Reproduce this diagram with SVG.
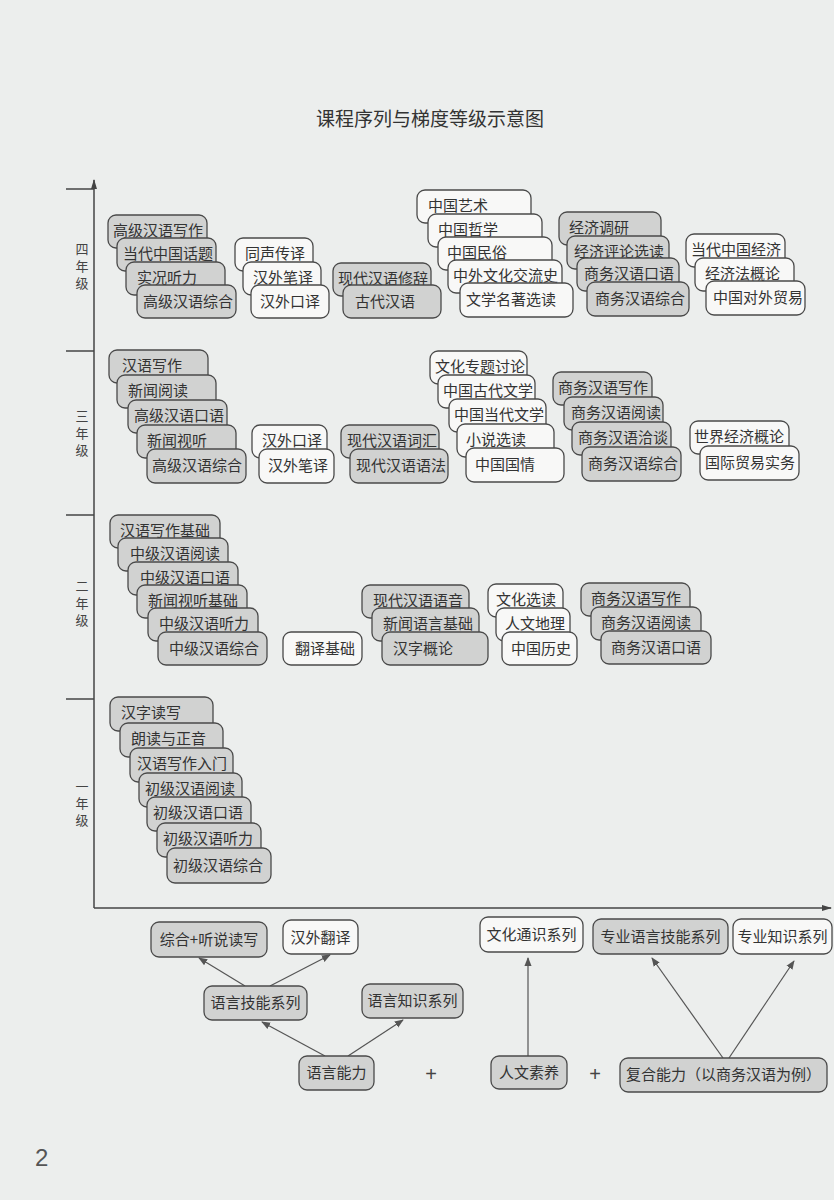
<svg xmlns="http://www.w3.org/2000/svg" width="834" height="1200" viewBox="0 0 834 1200">
<defs>
<style>
.g{fill:#d1d2d1;stroke:#4a4a4a;stroke-width:1.3}
.w{fill:#f8f8f7;stroke:#4a4a4a;stroke-width:1.3}
.t{font-family:"Noto Sans CJK SC","Noto Sans",sans-serif;font-size:15px;fill:#333}
.c{text-anchor:middle}
.yr{font-family:"Noto Sans CJK SC",sans-serif;font-size:13px;fill:#444;text-anchor:middle}
.ax{stroke:#444;stroke-width:1.5;fill:none}
.ar{stroke:#555;stroke-width:1.2;fill:none;marker-end:url(#ah)}
</style>
<marker id="ah" viewBox="0 0 10 10" refX="9" refY="5" markerWidth="9" markerHeight="9" orient="auto" markerUnits="userSpaceOnUse"><path d="M0,1 L10,5 L0,9 z" fill="#555"/></marker>
<marker id="axh" viewBox="0 0 10 10" refX="9" refY="5" markerWidth="10" markerHeight="10" orient="auto" markerUnits="userSpaceOnUse"><path d="M0,2 L10,5 L0,8 z" fill="#444"/></marker>
</defs>
<rect x="0" y="0" width="834" height="1200" fill="#eceeed"/>
<text x="430" y="126" font-family="'Noto Sans CJK SC',sans-serif" font-size="19" fill="#333" text-anchor="middle">课程序列与梯度等级示意图</text>
<g id="axes">
<line class="ax" x1="94" y1="908" x2="94" y2="180" marker-end="url(#axh)"/>
<line class="ax" x1="94" y1="908" x2="831" y2="908" marker-end="url(#axh)"/>
<line class="ax" x1="66" y1="189" x2="94" y2="189"/>
<line class="ax" x1="66" y1="351" x2="94" y2="351"/>
<line class="ax" x1="66" y1="515" x2="94" y2="515"/>
<line class="ax" x1="66" y1="699" x2="94" y2="699"/>
</g>
<g id="year-labels">
<text class="yr" x="82" y="254">四</text><text class="yr" x="82" y="271">年</text><text class="yr" x="82" y="288">级</text>
<text class="yr" x="82" y="421">三</text><text class="yr" x="82" y="438">年</text><text class="yr" x="82" y="455">级</text>
<text class="yr" x="82" y="591">二</text><text class="yr" x="82" y="608">年</text><text class="yr" x="82" y="625">级</text>
<text class="yr" x="82" y="791">一</text><text class="yr" x="82" y="808">年</text><text class="yr" x="82" y="825">级</text>
</g>
<g id="year4">
<g id="n401"><rect class="g" x="108" y="215" width="99" height="33" rx="8"/><text class="t" x="113" y="236">高级汉语写作</text></g>
<g id="n402"><rect class="g" x="117" y="238" width="99" height="33" rx="8"/><text class="t" x="123" y="259">当代中国话题</text></g>
<g id="n403"><rect class="g" x="126" y="262" width="99" height="33" rx="8"/><text class="t" x="137" y="283">实况听力</text></g>
<g id="n404"><rect class="g" x="137" y="285" width="99" height="33" rx="8"/><text class="t" x="143" y="307">高级汉语综合</text></g>
<g id="n405"><rect class="w" x="235" y="238" width="78" height="33" rx="8"/><text class="t" x="245" y="259">同声传译</text></g>
<g id="n406"><rect class="w" x="243" y="262" width="78" height="33" rx="8"/><text class="t" x="253" y="283">汉外笔译</text></g>
<g id="n407"><rect class="w" x="251" y="285" width="78" height="33" rx="8"/><text class="t" x="260" y="307">汉外口译</text></g>
<g id="n408"><rect class="g" x="333" y="263" width="98" height="33" rx="8"/><text class="t" x="338" y="284">现代汉语修辞</text></g>
<g id="n409"><rect class="g" x="343" y="285" width="98" height="33" rx="8"/><text class="t" x="355" y="307">古代汉语</text></g>
<g id="n410"><rect class="w" x="417" y="190" width="114" height="33" rx="8"/><text class="t" x="428" y="211">中国艺术</text></g>
<g id="n411"><rect class="w" x="428" y="214" width="114" height="33" rx="8"/><text class="t" x="438" y="235">中国哲学</text></g>
<g id="n412"><rect class="w" x="438" y="237" width="114" height="33" rx="8"/><text class="t" x="447" y="258">中国民俗</text></g>
<g id="n413"><rect class="w" x="448" y="260" width="114" height="33" rx="8"/><text class="t" x="453" y="281">中外文化交流史</text></g>
<g id="n414"><rect class="w" x="460" y="283" width="113" height="34" rx="8"/><text class="t" x="466" y="305">文学名著选读</text></g>
<g id="n415"><rect class="g" x="559" y="212" width="102" height="33" rx="8"/><text class="t" x="569" y="233">经济调研</text></g>
<g id="n416"><rect class="g" x="567" y="236" width="102" height="33" rx="8"/><text class="t" x="574" y="257">经济评论选读</text></g>
<g id="n417"><rect class="g" x="577" y="258" width="102" height="33" rx="8"/><text class="t" x="584" y="279">商务汉语口语</text></g>
<g id="n418"><rect class="g" x="587" y="282" width="102" height="34" rx="8"/><text class="t" x="595" y="304">商务汉语综合</text></g>
<g id="n419"><rect class="w" x="686" y="234" width="99" height="33" rx="8"/><text class="t" x="691" y="255">当代中国经济</text></g>
<g id="n420"><rect class="w" x="695" y="258" width="99" height="33" rx="8"/><text class="t" x="705" y="279">经济法概论</text></g>
<g id="n421"><rect class="w" x="706" y="281" width="99" height="34" rx="8"/><text class="t" x="713" y="303">中国对外贸易</text></g>
</g>
<g id="year3">
<g id="n301"><rect class="g" x="109" y="350" width="99" height="33" rx="8"/><text class="t" x="122" y="371">汉语写作</text></g>
<g id="n302"><rect class="g" x="117" y="375" width="99" height="33" rx="8"/><text class="t" x="128" y="396">新闻阅读</text></g>
<g id="n303"><rect class="g" x="128" y="400" width="99" height="33" rx="8"/><text class="t" x="134" y="421">高级汉语口语</text></g>
<g id="n304"><rect class="g" x="137" y="425" width="99" height="33" rx="8"/><text class="t" x="147" y="446">新闻视听</text></g>
<g id="n305"><rect class="g" x="147" y="449" width="99" height="34" rx="8"/><text class="t" x="152" y="471">高级汉语综合</text></g>
<g id="n306"><rect class="w" x="252" y="425" width="75" height="33" rx="8"/><text class="t" x="262" y="446">汉外口译</text></g>
<g id="n307"><rect class="w" x="259" y="449" width="75" height="34" rx="8"/><text class="t" x="268" y="471">汉外笔译</text></g>
<g id="n308"><rect class="g" x="341" y="425" width="98" height="33" rx="8"/><text class="t" x="347" y="446">现代汉语词汇</text></g>
<g id="n309"><rect class="g" x="350" y="449" width="98" height="34" rx="8"/><text class="t" x="356" y="471">现代汉语语法</text></g>
<g id="n310"><rect class="w" x="430" y="351" width="97" height="33" rx="8"/><text class="t" x="435" y="372">文化专题讨论</text></g>
<g id="n311"><rect class="w" x="438" y="375" width="97" height="33" rx="8"/><text class="t" x="443" y="396">中国古代文学</text></g>
<g id="n312"><rect class="w" x="449" y="399" width="97" height="33" rx="8"/><text class="t" x="454" y="420">中国当代文学</text></g>
<g id="n313"><rect class="w" x="457" y="424" width="97" height="33" rx="8"/><text class="t" x="466" y="445">小说选读</text></g>
<g id="n314"><rect class="w" x="466" y="448" width="98" height="34" rx="8"/><text class="t" x="475" y="470">中国国情</text></g>
<g id="n315"><rect class="g" x="553" y="372" width="99" height="33" rx="8"/><text class="t" x="558" y="393">商务汉语写作</text></g>
<g id="n316"><rect class="g" x="564" y="397" width="99" height="33" rx="8"/><text class="t" x="571" y="418">商务汉语阅读</text></g>
<g id="n317"><rect class="g" x="572" y="422" width="99" height="33" rx="8"/><text class="t" x="578" y="443">商务汉语洽谈</text></g>
<g id="n318"><rect class="g" x="582" y="447" width="99" height="34" rx="8"/><text class="t" x="588" y="469">商务汉语综合</text></g>
<g id="n319"><rect class="w" x="690" y="421" width="99" height="33" rx="8"/><text class="t" x="694" y="442">世界经济概论</text></g>
<g id="n320"><rect class="w" x="700" y="446" width="99" height="34" rx="8"/><text class="t" x="705" y="468">国际贸易实务</text></g>
</g>
<g id="year2">
<g id="n201"><rect class="g" x="110" y="515" width="110" height="33" rx="8"/><text class="t" x="120" y="536">汉语写作基础</text></g>
<g id="n202"><rect class="g" x="118" y="538" width="110" height="33" rx="8"/><text class="t" x="130" y="559">中级汉语阅读</text></g>
<g id="n203"><rect class="g" x="128" y="562" width="110" height="33" rx="8"/><text class="t" x="140" y="583">中级汉语口语</text></g>
<g id="n204"><rect class="g" x="137" y="585" width="110" height="33" rx="8"/><text class="t" x="148" y="606">新闻视听基础</text></g>
<g id="n205"><rect class="g" x="148" y="608" width="110" height="33" rx="8"/><text class="t" x="159" y="629">中级汉语听力</text></g>
<g id="n206"><rect class="g" x="158" y="632" width="109" height="33" rx="8"/><text class="t" x="169" y="654">中级汉语综合</text></g>
<g id="n207"><rect class="w" x="283" y="632" width="79" height="33" rx="8"/><text class="t" x="295" y="654">翻译基础</text></g>
<g id="n208"><rect class="g" x="362" y="585" width="107" height="33" rx="8"/><text class="t" x="373" y="606">现代汉语语音</text></g>
<g id="n209"><rect class="g" x="372" y="608" width="107" height="33" rx="8"/><text class="t" x="383" y="629">新闻语言基础</text></g>
<g id="n210"><rect class="g" x="382" y="632" width="106" height="33" rx="8"/><text class="t" x="393" y="654">汉字概论</text></g>
<g id="n211"><rect class="w" x="488" y="584" width="75" height="33" rx="8"/><text class="t" x="496" y="605">文化选读</text></g>
<g id="n212"><rect class="w" x="496" y="608" width="74" height="33" rx="8"/><text class="t" x="505" y="629">人文地理</text></g>
<g id="n213"><rect class="w" x="502" y="632" width="75" height="33" rx="8"/><text class="t" x="511" y="654">中国历史</text></g>
<g id="n214"><rect class="g" x="581" y="583" width="109" height="33" rx="8"/><text class="t" x="591" y="604">商务汉语写作</text></g>
<g id="n215"><rect class="g" x="591" y="607" width="110" height="33" rx="8"/><text class="t" x="601" y="628">商务汉语阅读</text></g>
<g id="n216"><rect class="g" x="601" y="631" width="110" height="33" rx="8"/><text class="t" x="611" y="653">商务汉语口语</text></g>
</g>
<g id="year1">
<g id="n101"><rect class="g" x="110" y="697" width="103" height="34" rx="8"/><text class="t" x="121" y="718">汉字读写</text></g>
<g id="n102"><rect class="g" x="120" y="723" width="103" height="34" rx="8"/><text class="t" x="131" y="744">朗读与正音</text></g>
<g id="n103"><rect class="g" x="130" y="748" width="103" height="34" rx="8"/><text class="t" x="137" y="769">汉语写作入门</text></g>
<g id="n104"><rect class="g" x="139" y="773" width="103" height="34" rx="8"/><text class="t" x="145" y="794">初级汉语阅读</text></g>
<g id="n105"><rect class="g" x="147" y="797" width="104" height="34" rx="8"/><text class="t" x="153" y="818">初级汉语口语</text></g>
<g id="n106"><rect class="g" x="157" y="823" width="104" height="34" rx="8"/><text class="t" x="163" y="844">初级汉语听力</text></g>
<g id="n107"><rect class="g" x="167" y="848" width="104" height="35" rx="8"/><text class="t" x="173" y="871">初级汉语综合</text></g>
</g>
<g id="connectors">
<line class="ar" x1="245" y1="986" x2="199" y2="958"/>
<line class="ar" x1="270" y1="986" x2="330" y2="955"/>
<line class="ar" x1="325" y1="1056" x2="262" y2="1022"/>
<line class="ar" x1="348" y1="1056" x2="403" y2="1020"/>
<line class="ar" x1="528" y1="1056" x2="528" y2="958"/>
<line class="ar" x1="723" y1="1058" x2="652" y2="958"/>
<line class="ar" x1="729" y1="1058" x2="794" y2="961"/>
</g>
<g id="bottom">
<g id="b1"><rect class="g" x="151" y="922" width="116" height="35" rx="8"/><text class="t c" x="209" y="945">综合+听说读写</text></g>
<g id="b2"><rect class="w" x="283" y="920" width="75" height="34" rx="8"/><text class="t c" x="320.5" y="943">汉外翻译</text></g>
<g id="b3"><rect class="g" x="204" y="986" width="103" height="34" rx="8"/><text class="t c" x="255.5" y="1008">语言技能系列</text></g>
<g id="b4"><rect class="g" x="362" y="984" width="101" height="34" rx="8"/><text class="t c" x="412.5" y="1006">语言知识系列</text></g>
<g id="b5"><rect class="g" x="299" y="1056" width="75" height="34" rx="8"/><text class="t c" x="336.5" y="1078">语言能力</text></g>
<g id="b6"><rect class="w" x="480" y="917" width="103" height="35" rx="8"/><text class="t c" x="531.5" y="940">文化通识系列</text></g>
<g id="b7"><rect class="g" x="593" y="919" width="135" height="35" rx="8"/><text class="t c" x="660.5" y="942">专业语言技能系列</text></g>
<g id="b8"><rect class="w" x="733" y="919" width="99" height="35" rx="8"/><text class="t c" x="782.5" y="942">专业知识系列</text></g>
<g id="b9"><rect class="g" x="491" y="1056" width="76" height="33" rx="8"/><text class="t c" x="529" y="1078">人文素养</text></g>
<g id="b10"><rect class="g" x="620" y="1058" width="207" height="34" rx="8"/><text class="t c" x="723.5" y="1080">复合能力（以商务汉语为例）</text></g>
<text x="431" y="1081" font-family="'Liberation Sans',sans-serif" font-size="20" fill="#444" text-anchor="middle">+</text>
<text x="595" y="1081" font-family="'Liberation Sans',sans-serif" font-size="20" fill="#444" text-anchor="middle">+</text>
</g>
<text x="35" y="1166" font-family="'Liberation Sans',sans-serif" font-size="24" fill="#555">2</text>
</svg>
